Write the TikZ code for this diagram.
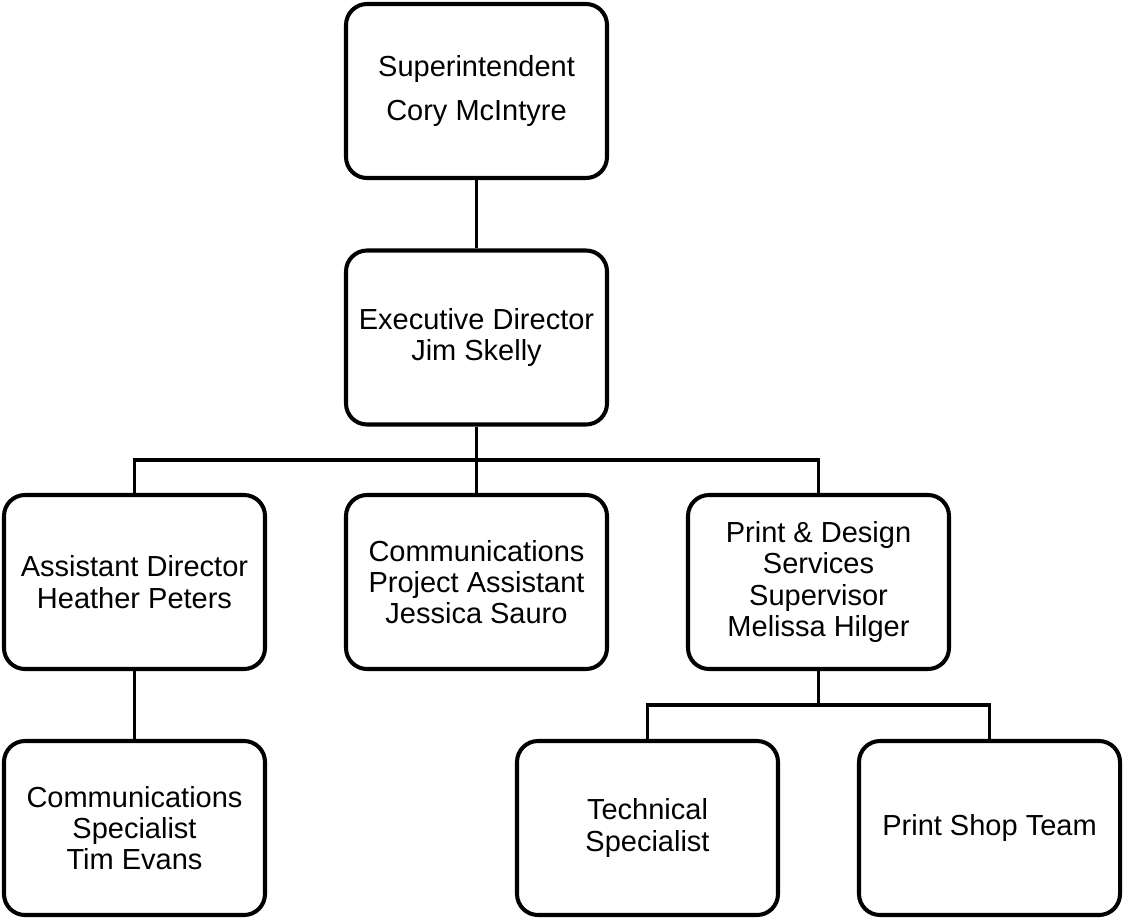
\documentclass[tikz,border=0pt]{standalone}
\usepackage{fontspec}
\setmainfont{Liberation Sans}
\usepackage{tikz}
\usetikzlibrary{positioning}

\begin{document}
\begin{tikzpicture}[
    box/.style={draw, line width=2.3pt, rounded corners=0.42cm, align=center,
        minimum width=5.22cm, minimum height=3.48cm, inner sep=0pt,
        font=\fontsize{16.5pt}{17.8pt}\selectfont},
    link/.style={line width=1.9pt}
]
    \useasboundingbox (0,0) rectangle (22.5,-18.36);

    % Top of the chart
    \node[box] (sup) at (9.53,-1.82) {Superintendent\\[0.26cm]Cory McIntyre};
    \node[box] (exec) at (9.53,-6.75) {Executive Director\\Jim Skelly};

    % Second row
    \node[box] (asst) at (2.69,-11.64) {Assistant Director\\Heather Peters};
    \node[box] (proj) at (9.53,-11.64) {Communications\\Project Assistant\\Jessica Sauro};
    \node[box] (print) at (16.37,-11.64) {Print \& Design\\Services\\Supervisor\\Melissa Hilger};

    % Third row
    \node[box] (spec) at (2.69,-16.56) {Communications\\Specialist\\Tim Evans};
    \node[box] (tech) at (12.95,-16.56) {Technical\\Specialist};
    \node[box] (shop) at (19.79,-16.56) {Print Shop Team};

    % Branch points
    \coordinate (busA) at (9.53,-9.2);
    \coordinate (busB) at (16.37,-14.1);

    % Connectors
    \draw[link] (sup) -- (exec);
    \draw[link] (exec) -- (busA);
    \draw[link] (busA) -| (asst);
    \draw[link] (busA) -| (print);
    \draw[link] (busA) -- (proj);
    \draw[link] (asst) -- (spec);
    \draw[link] (print) -- (busB);
    \draw[link] (busB) -| (tech);
    \draw[link] (busB) -| (shop);
\end{tikzpicture}
\end{document}
